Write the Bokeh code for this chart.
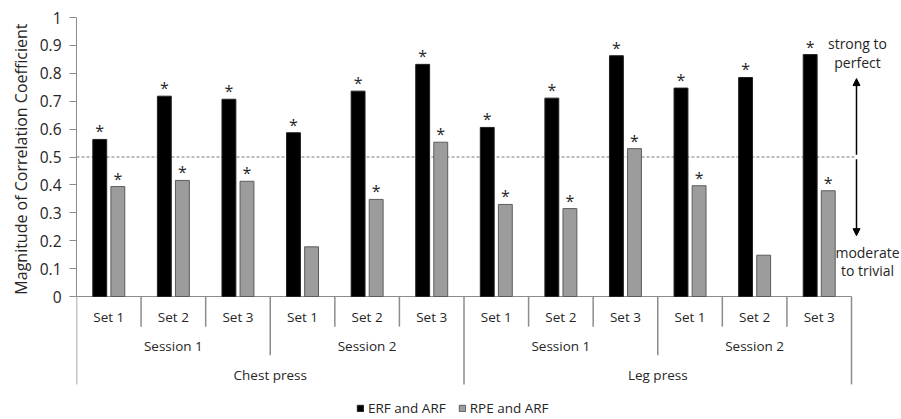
from bokeh.plotting import figure
from bokeh.models import (Range1d, FixedTicker, Arrow, NormalHead, Title,
                          Legend, LegendItem, ColumnDataSource, NumeralTickFormatter)
from bokeh.transform import dodge
from bokeh.core.properties import value
from bokeh.embed import file_html
from bokeh.resources import INLINE

# ---------------- data ----------------
exercises = ["Chest press", "Leg press"]
sessions = ["Session 1", "Session 2"]
sets = ["Set 1", "Set 2", "Set 3"]

erf_arf = [0.563, 0.718, 0.707, 0.587, 0.736, 0.832,
           0.606, 0.711, 0.863, 0.747, 0.785, 0.867]
rpe_arf = [0.394, 0.416, 0.413, 0.178, 0.348, 0.553,
           0.330, 0.315, 0.530, 0.397, 0.148, 0.379]
erf_sig = [True, True, True, True, True, True,
           True, True, True, True, True, True]
rpe_sig = [True, True, True, False, True, True,
           True, True, True, True, False, True]

series_names = ["ERF and ARF", "RPE and ARF"]
yticks = [0, 0.1, 0.2, 0.3, 0.4, 0.5, 0.6, 0.7, 0.8, 0.9, 1]
threshold = 0.5
y_title = "Magnitude of Correlation Coefficient"
upper_note = ["strong to", "perfect"]
lower_note = ["moderate", "to trivial"]

# ---------------- layout ----------------
FONT = "Open Sans"
TXT = "#262626"
GRID = "#8c8c8c"
W, H = 901, 419
ML, MT = 76, 17
FW, FH = W - ML, H - MT
CAT_PX = 775 / 12.0          # pixel width of one category
UNIT_PX = 279.0              # pixels per 1.0 on the y axis
X_END = FW / CAT_PX
Y_START = 1.0 - FH / UNIT_PX
CAT_FS = "13.5px"


def px2x(page_x):
    return (page_x - ML) / CAT_PX


# category slots (one per Set) built from the label lists
cats = [(e, s, t) for e in exercises for s in sessions for t in sets]
idx = [i + 0.5 for i in range(len(cats))]

p = figure(width=W, height=H,
           x_range=Range1d(0, X_END), y_range=Range1d(Y_START, 1.0),
           output_backend="svg", toolbar_location=None,
           x_axis_location=None,
           min_border_left=ML, min_border_right=0,
           min_border_top=MT, min_border_bottom=0)
p.grid.visible = False
p.outline_line_color = None
p.background_fill_color = "white"

yax = p.yaxis[0]
yax.ticker = FixedTicker(ticks=yticks)
yax.formatter = NumeralTickFormatter(format="0.[0]")
yax.bounds = (0, 1)
yax.axis_line_color = GRID
yax.major_tick_line_color = GRID
yax.major_tick_out = 7
yax.major_tick_in = 0
yax.minor_tick_line_color = None
yax.major_label_text_font = FONT
yax.major_label_text_font_size = "15.5px"
yax.major_label_text_color = TXT
yax.major_label_standoff = 8

p.add_layout(Title(text=y_title, align="right", offset=6, standoff=9,
                   text_font=FONT, text_font_size="16px", text_font_style="normal",
                   text_color=TXT), "left")

src = ColumnDataSource(dict(
    pos=idx, erf=erf_arf, rpe=rpe_arf,
    erf_star=["*" if s else "" for s in erf_sig],
    rpe_star=["*" if s else "" for s in rpe_sig],
))

# category separators (left edge of each slot) and outer borders
LV_SET, LV_SES, LV_EX = -0.108, -0.211, -0.315
sep_x, sep_y = [], []
for i, (e, s, t) in enumerate(cats):
    if t != sets[0]:
        sep_y.append(LV_SET)
    elif s != sessions[0]:
        sep_y.append(LV_SES)
    else:
        sep_y.append(LV_EX)
    sep_x.append(idx[i] - 0.5)
sep_x.append(idx[-1] + 0.5)
sep_y.append(LV_EX)
p.segment(x0=sep_x, y0=0, x1=sep_x, y1=sep_y, line_color=GRID, line_width=1.5)

# baseline and threshold
p.segment(x0=0, y0=0, x1=idx[-1] + 0.5, y1=0, line_color=GRID, line_width=1)
p.segment(x0=0, y0=threshold, x1=px2x(854), y1=threshold, line_color="#7a7a7a",
          line_width=1, line_dash="3 2")

bw = 0.215
r1 = p.vbar(x=dodge("pos", -0.14), top="erf", width=bw, source=src,
            fill_color="black", line_color="#222222", line_width=1)
r2 = p.vbar(x=dodge("pos", 0.14), top="rpe", width=bw, source=src,
            fill_color="#9c9c9c", line_color="#5c5c5c", line_width=1)

for off, col in [(-0.14, "erf"), (0.14, "rpe")]:
    p.text(x=dodge("pos", off), y=col, text=col + "_star", source=src,
           text_align="center", text_baseline="middle", y_offset=-8,
           text_font=value(FONT), text_font_size="16px", text_color=TXT)

# category labels
p.text(x=idx, y=-0.075, text=[c[2] for c in cats], text_align="center",
       text_baseline="middle", text_font=value(FONT), text_font_size=CAT_FS, text_color=TXT)
ses_x, ses_t = [], []
for e in exercises:
    for s in sessions:
        xs = [idx[i] for i, c in enumerate(cats) if c[0] == e and c[1] == s]
        ses_x.append(sum(xs) / len(xs))
        ses_t.append(s)
p.text(x=ses_x, y=-0.179, text=ses_t, text_align="center",
       text_baseline="middle", text_font=value(FONT), text_font_size=CAT_FS, text_color=TXT)
ex_x = []
for e in exercises:
    xs = [idx[i] for i, c in enumerate(cats) if c[0] == e]
    ex_x.append(sum(xs) / len(xs))
p.text(x=ex_x, y=-0.283, text=exercises, text_align="center",
       text_baseline="middle", text_font=value(FONT), text_font_size=CAT_FS, text_color=TXT)

# right-hand notes and arrows
p.text(x=px2x(857), y=[0.907, 0.839], text=upper_note, text_align="center",
       text_baseline="middle", text_font=value(FONT), text_font_size="14px", text_color=TXT)
p.text(x=px2x(867), y=[0.157, 0.092], text=lower_note, text_align="center",
       text_baseline="middle", text_font=value(FONT), text_font_size="14px", text_color=TXT)
ax_x = px2x(856)
p.add_layout(Arrow(end=NormalHead(size=7, fill_color="black", line_color="black"),
                   x_start=ax_x, y_start=threshold + 0.008, x_end=ax_x, y_end=0.781,
                   line_color="black", line_width=1.5))
p.add_layout(Arrow(end=NormalHead(size=7, fill_color="black", line_color="black"),
                   x_start=ax_x, y_start=threshold - 0.008, x_end=ax_x, y_end=0.218,
                   line_color="black", line_width=1.5))

legend = Legend(items=[LegendItem(label=series_names[0], renderers=[r1]),
                       LegendItem(label=series_names[1], renderers=[r2])],
                location=(280, 2), orientation="horizontal",
                border_line_color=None, background_fill_alpha=0,
                glyph_width=8, glyph_height=8, label_text_font=FONT,
                label_text_font_size="13.5px", label_text_color=TXT,
                label_standoff=4, spacing=12, padding=0, margin=0,
                label_height=14)
p.add_layout(legend)

open("out.html", "w").write(file_html(p, INLINE))
